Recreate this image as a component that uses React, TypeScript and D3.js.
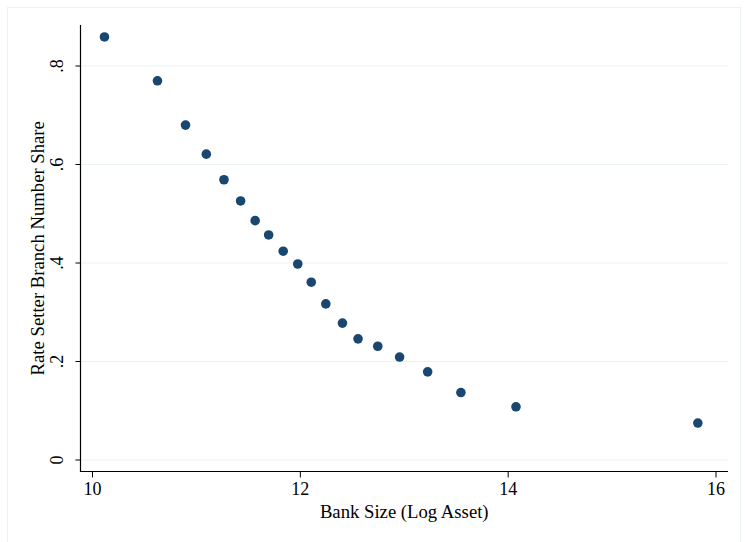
import React, { useEffect, useRef } from 'react';
import * as d3 from 'd3';

// bank size (log asset) bins and the rate setter branch share in each
const bankSize = [10.12, 10.63, 10.9, 11.1, 11.27, 11.43, 11.57, 11.7, 11.84, 11.98, 12.11, 12.25, 12.41, 12.56, 12.75, 12.96, 13.23, 13.55, 14.08, 15.83];
const branchShare = [0.859, 0.77, 0.68, 0.621, 0.569, 0.526, 0.486, 0.457, 0.424, 0.398, 0.361, 0.317, 0.278, 0.246, 0.231, 0.209, 0.179, 0.137, 0.108, 0.075];
const xTicks = [10, 12, 14, 16];
const yTicks = [0, 0.2, 0.4, 0.6, 0.8];
const yTickLabels = ['0', '.2', '.4', '.6', '.8'];

const W = 745;
const H = 542;

const App = () => {
  const ref = useRef<SVGSVGElement>(null);

  useEffect(() => {
    const svg = d3.select(ref.current);
    svg.selectAll('*').remove();

    const font = '"Liberation Serif", "Times New Roman", serif';
    const x = d3.scaleLinear().domain([10, 16]).range([92, 715.5]);
    const y = d3.scaleLinear().domain([0, 0.8]).range([460, 66]);

    svg.append('rect').attr('width', W).attr('height', H).attr('fill', '#fff');
    // outer graph region border
    svg.append('rect')
      .attr('x', 7.5).attr('y', 7.5).attr('width', 733).attr('height', 540)
      .attr('fill', '#fff').attr('stroke', '#eaf2f3').attr('stroke-width', 1);

    const left = 80.5;
    const right = 728;
    const top = 25;
    const bottom = 471.5;

    // gridlines
    svg.append('g')
      .selectAll('line')
      .data(yTicks)
      .enter()
      .append('line')
      .attr('x1', left).attr('x2', right)
      .attr('y1', (d) => y(d)).attr('y2', (d) => y(d))
      .attr('stroke', '#eaf2f3').attr('stroke-width', 1.2);

    // y axis
    const yAxis = svg.append('g')
      .attr('transform', `translate(${left},0)`)
      .call(d3.axisLeft(y).tickValues(yTicks).tickSize(5).tickFormat((d, i) => yTickLabels[i]));
    yAxis.select('.domain').remove();
    yAxis.selectAll('line').attr('stroke', '#000');
    yAxis.selectAll('text')
      .attr('font-family', font).attr('font-size', 18).attr('fill', '#000')
      .attr('text-anchor', 'middle')
      .attr('transform', (d) => `translate(-24,${y(d as number)}) rotate(-90)`)
      .attr('x', 0).attr('y', 0).attr('dy', '0.35em');
    yAxis.selectAll('.tick').attr('transform', null);
    yAxis.selectAll('.tick line').attr('y1', (d) => y(d as number)).attr('y2', (d) => y(d as number));

    svg.append('line')
      .attr('x1', left).attr('x2', left).attr('y1', top).attr('y2', bottom + 0.5)
      .attr('stroke', '#000').attr('stroke-width', 1.2);

    // x axis
    const xAxis = svg.append('g')
      .attr('transform', `translate(0,${bottom})`)
      .call(d3.axisBottom(x).tickValues(xTicks).tickSize(6).tickFormat(d3.format('d')));
    xAxis.select('.domain').remove();
    xAxis.selectAll('line').attr('stroke', '#000');
    xAxis.selectAll('text')
      .attr('font-family', font).attr('font-size', 18).attr('fill', '#000')
      .attr('y', 11).attr('dy', '0.71em');

    svg.append('line')
      .attr('x1', left - 0.5).attr('x2', right).attr('y1', bottom).attr('y2', bottom)
      .attr('stroke', '#000').attr('stroke-width', 1.2);

    // axis titles
    svg.append('text')
      .attr('x', (left + right) / 2).attr('y', 518)
      .attr('text-anchor', 'middle')
      .attr('font-family', font).attr('font-size', 18.7)
      .text('Bank Size (Log Asset)');

    svg.append('text')
      .attr('transform', `translate(44,${(top + bottom) / 2}) rotate(-90)`)
      .attr('text-anchor', 'middle')
      .attr('font-family', font).attr('font-size', 18.7)
      .text('Rate Setter Branch Number Share');

    // points
    svg.append('g')
      .selectAll('circle')
      .data(bankSize.map((b, i) => ({ b, s: branchShare[i] })))
      .enter()
      .append('circle')
      .attr('cx', (d) => x(d.b))
      .attr('cy', (d) => y(d.s))
      .attr('r', 4.8)
      .attr('fill', '#1a476f');
  }, []);

  return <svg ref={ref} width={W} height={H} style={{ display: 'block', position: 'absolute', left: 0, top: 0 }}></svg>;
};

export default App;
